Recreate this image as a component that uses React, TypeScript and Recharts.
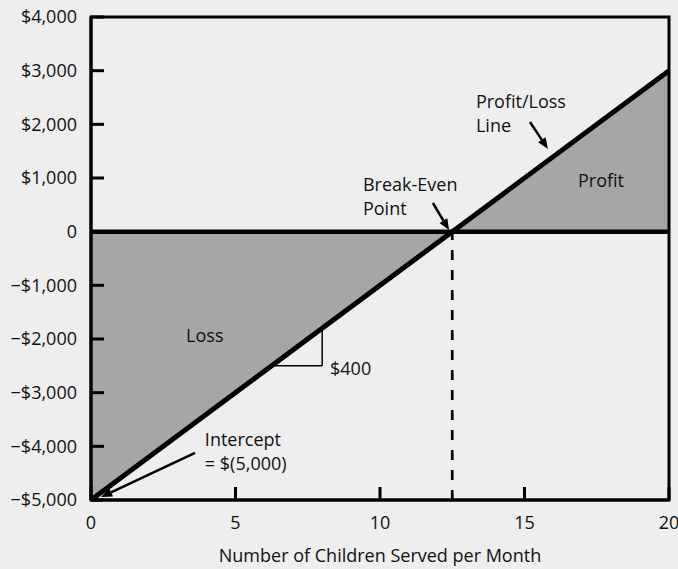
import React from 'react';
import {
  ComposedChart, Area, Line, XAxis, YAxis, ReferenceLine, ReferenceArea, ReferenceDot, Label,
} from 'recharts';

const children = [0, 12.5, 20];
const profitLoss = [-5000, 0, 3000];
const xTicks = [0, 5, 10, 15, 20];
const yTicks = [4000, 3000, 2000, 1000, 0, -1000, -2000, -3000, -4000, -5000];
const xDomain = [0, 20];
const yDomain = [-5000, 4000];

const annotations = [
  { x: 13.32, y: 2300, lines: ['Profit/Loss', 'Line'] },
  { x: 9.41, y: 760, lines: ['Break-Even', 'Point'] },
  { x: 16.85, y: 830, lines: ['Profit'] },
  { x: 3.29, y: -2060, lines: ['Loss'] },
  { x: 8.27, y: -2670, lines: ['$400'] },
  { x: 3.94, y: -3990, lines: ['Intercept', '= $(5,000)'] },
];

const arrows = [
  { x1: 15.19, y1: 2044, x2: 15.81, y2: 1540 },
  { x1: 11.83, y1: 534, x2: 12.39, y2: 31 },
  { x1: 3.6, y1: -4124, x2: 0.35, y2: -4944 },
];

const slopeRun = [
  { x1: 6.25, y1: -2500, x2: 8, y2: -2500 },
  { x1: 8, y1: -2500, x2: 8, y2: -1800 },
];

const data = children.map((c, i) => ({ x: c, y: profitLoss[i] }));

const FONT = '"Open Sans", sans-serif';
const TICK_LEN = 13;

const fmtY = (v: number) => {
  if (v === 0) return '0';
  const s = '$' + Math.abs(v).toLocaleString('en-US');
  return v < 0 ? '\u2212' + s : s;
};

const ArrowShape = (p: any) => {
  const { x1, y1, x2, y2 } = p;
  const dx = x2 - x1, dy = y2 - y1;
  const len = Math.sqrt(dx * dx + dy * dy) || 1;
  const ux = dx / len, uy = dy / len;
  const hl = 11, hw = 4.5;
  const bx = x2 - ux * hl, by = y2 - uy * hl;
  const pts = `${x2},${y2} ${bx - uy * hw},${by + ux * hw} ${bx + uy * hw},${by - ux * hw}`;
  return (
    <g>
      <line x1={x1} y1={y1} x2={bx} y2={by} stroke="#000" strokeWidth={2.5} />
      <polygon points={pts} fill="#000" />
    </g>
  );
};

// Inward tick marks drawn from the axis-edge point (same mechanism as the text labels)
const XTickDot = (p: any) => (
  <rect x={p.cx - 1.5} y={p.cy - TICK_LEN} width={3} height={TICK_LEN} fill="#000" />
);
const YTickDot = (p: any) => (
  <rect x={p.cx} y={p.cy - 1.5} width={TICK_LEN} height={3} fill="#000" />
);

const textShape = (lines: string[]) => (p: any) => (
  <text x={p.cx} y={p.cy} fontFamily={FONT} fontSize={18} fill="#111">
    {lines.map((l, i) => (
      <tspan key={i} x={p.cx} dy={i === 0 ? 0 : 24}>{l}</tspan>
    ))}
  </text>
);

export default function App() {
  return (
    <div style={{ position: 'absolute', left: 0, top: 0, width: 678, height: 569, background: '#eeeeee' }}>
      <ComposedChart
        width={678}
        height={569}
        data={data}
        margin={{ top: 17, right: 9, bottom: 0, left: 0 }}
      >
        <Area
          dataKey="y"
          type="linear"
          baseValue={0}
          fill="#a6a6a6"
          fillOpacity={1}
          stroke="none"
          isAnimationActive={false}
        />
        <XAxis
          dataKey="x"
          type="number"
          domain={xDomain}
          ticks={xTicks}
          height={69}
          axisLine={{ stroke: '#000', strokeWidth: 3 }}
          tickLine={false}
          tickSize={0}
          tickMargin={16}
          tick={{ fill: '#111', fontSize: 18, fontFamily: FONT }}
        >
          <Label
            value="Number of Children Served per Month"
            position="insideBottom"
            offset={7}
            style={{ fill: '#111', fontSize: 18, fontFamily: FONT }}
          />
        </XAxis>
        <YAxis
          type="number"
          domain={yDomain}
          ticks={yTicks}
          width={91}
          interval={0}
          tickFormatter={fmtY}
          axisLine={{ stroke: '#000', strokeWidth: 3 }}
          tickLine={false}
          tickSize={0}
          tickMargin={14}
          tick={{ fill: '#111', fontSize: 18, fontFamily: FONT }}
        />
        <ReferenceLine y={0} stroke="#000" strokeWidth={4.5} />
        <ReferenceLine
          segment={[{ x: 12.5, y: -5000 }, { x: 12.5, y: 0 }]}
          stroke="#000"
          strokeWidth={2.7}
          strokeDasharray="10 10"
        />
        <Line
          dataKey="y"
          type="linear"
          stroke="#000"
          strokeWidth={5}
          dot={false}
          isAnimationActive={false}
        />
        {xTicks.map((t) => (
          <ReferenceDot key={'xt' + t} x={t} y={yDomain[0]} r={0} ifOverflow="visible" shape={XTickDot} />
        ))}
        {yTicks.map((t) => (
          <ReferenceDot key={'yt' + t} x={xDomain[0]} y={t} r={0} ifOverflow="visible" shape={YTickDot} />
        ))}
        {slopeRun.map((s, i) => (
          <ReferenceLine
            key={'s' + i}
            segment={[{ x: s.x1, y: s.y1 }, { x: s.x2, y: s.y2 }]}
            stroke="#000"
            strokeWidth={1.5}
          />
        ))}
        {arrows.map((a, i) => (
          <ReferenceLine
            key={'a' + i}
            segment={[{ x: a.x1, y: a.y1 }, { x: a.x2, y: a.y2 }]}
            shape={ArrowShape}
          />
        ))}
        {annotations.map((a, i) => (
          <ReferenceDot key={'t' + i} x={a.x} y={a.y} r={0} shape={textShape(a.lines)} />
        ))}
        <ReferenceArea x1={0} x2={20} y1={-5000} y2={4000} fill="none" fillOpacity={0} stroke="#000" strokeWidth={3} />
      </ComposedChart>
    </div>
  );
}
